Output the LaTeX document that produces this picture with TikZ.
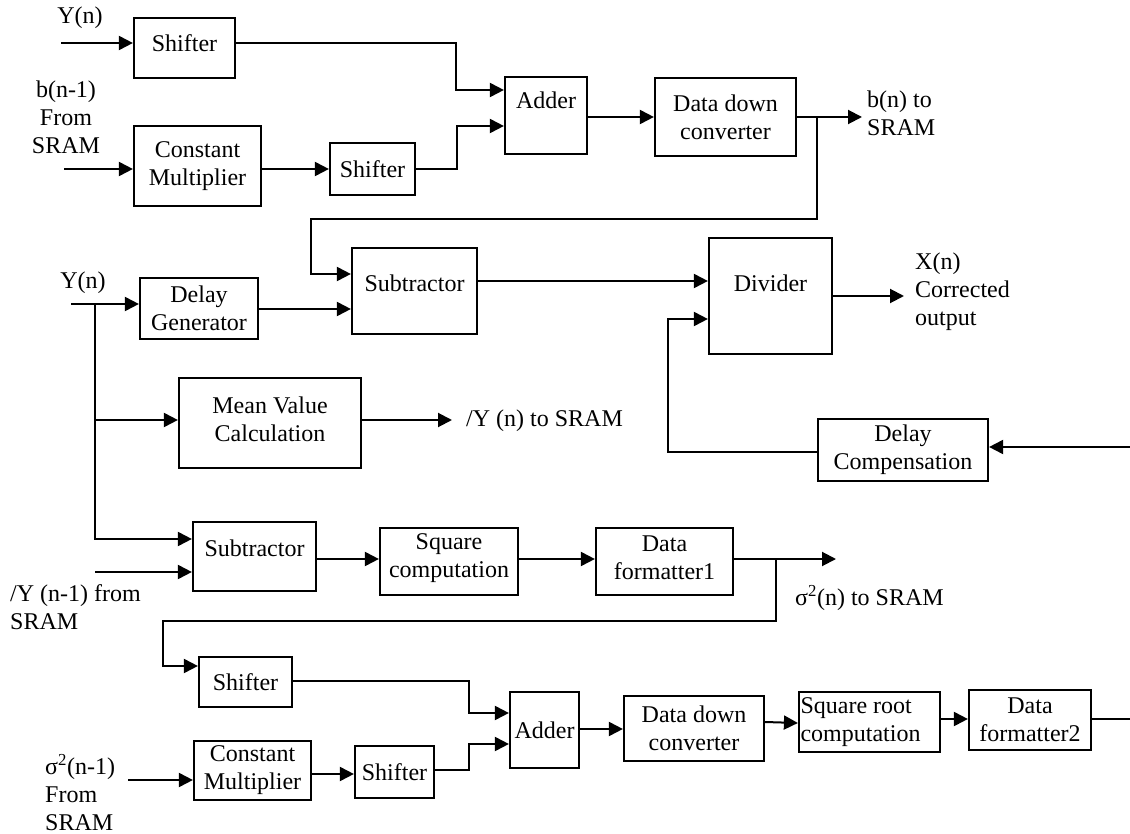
\documentclass[tikz,border=0pt]{standalone}
\usepackage{fontspec}
\setmainfont{Liberation Serif}
\usetikzlibrary{arrows.meta}

\begin{document}
\begin{tikzpicture}[x=1pt,y=-1pt,
  font=\fontsize{24}{28}\selectfont,
  blk/.style={draw,line width=2.2pt,inner sep=0pt,align=center},
  lbl/.style={inner sep=0pt,align=center},
  wire/.style={line width=2pt},
  arr/.style={line width=2pt,-{Triangle[length=14pt,width=14pt]}}]
\useasboundingbox (0,0) rectangle (1130,834);

% ---------- upper stage: b(n) update ----------
\node[blk,minimum width=101pt,minimum height=60pt,
      label={[lbl,yshift=5pt]center:Shifter}] (sh1) at (184.5,48) {};
\node[blk,minimum width=127pt,minimum height=80pt] (cm1) at (197.5,166) {Constant\\Multiplier};
\node[blk,minimum width=85pt,minimum height=52pt] (sh2) at (372.5,169) {Shifter};
\node[blk,minimum width=82pt,minimum height=77pt,
      label={[lbl,yshift=15pt]center:Adder}] (add1) at (546,115.5) {};
\node[blk,minimum width=141pt,minimum height=78pt] (ddc1) at (725.5,117) {Data down\\converter};

\node[lbl] (yn1) at (80,18) {Y(n)};
\node[lbl] (bin) at (66,117) {b(n-1)\\From\\SRAM};
\node[lbl,anchor=west,align=left] (bout) at (867,113) {b(n) to\\SRAM};

% ---------- correction stage ----------
\node[blk,minimum width=125pt,minimum height=86pt,
      label={[lbl,yshift=8pt]center:Subtractor}] (sub1) at (414.5,291) {};
\node[blk,minimum width=118pt,minimum height=61pt] (dg) at (199,308.5) {Delay\\Generator};
\node[blk,minimum width=182pt,minimum height=90pt,
      label={[lbl,yshift=4pt]center:{Mean Value\\Calculation}}] (mvc) at (270,423) {};
\node[blk,minimum width=123pt,minimum height=116pt,
      label={[lbl,yshift=13pt]center:Divider}] (div) at (770.5,296) {};
\node[blk,minimum width=170pt,minimum height=62pt] (dc) at (903,450) {Delay\\Compensation};

\node[lbl] (yn2) at (83,283) {Y(n)};
\node[lbl,anchor=west,align=left] (xout) at (915,292) {X(n)\\Corrected\\output};
\node[lbl,anchor=west] (ymean) at (466,421) {/Y (n) to SRAM};

% ---------- variance stage ----------
\node[blk,minimum width=123pt,minimum height=69pt,
      label={[lbl,yshift=8pt]center:Subtractor}] (sub2) at (254.5,556.5) {};
\node[blk,minimum width=138pt,minimum height=67pt,
      label={[lbl,yshift=3pt]center:{Square\\computation}}] (sqc) at (449,561.5) {};
\node[blk,minimum width=137pt,minimum height=67pt,
      label={[lbl,yshift=4pt]center:{Data\\formatter1}}] (df1) at (664.5,561.5) {};

\node[lbl,anchor=west,align=left] (yprev) at (10,607.5) {/Y (n-1) from\\SRAM};
\node[lbl,anchor=west] (sout) at (795,598) {σ\textsuperscript{2}(n) to SRAM};

% ---------- standard deviation stage ----------
\node[blk,minimum width=93pt,minimum height=50pt] (sh3) at (245.5,682) {Shifter};
\node[blk,minimum width=117pt,minimum height=59pt] (cm2) at (252.5,770.5) {Constant\\Multiplier};
\node[blk,minimum width=79pt,minimum height=52pt] (sh4) at (394.5,772) {Shifter};
\node[blk,minimum width=69pt,minimum height=76pt] (add2) at (544.5,730) {Adder};
\node[blk,minimum width=140pt,minimum height=65pt] (ddc2) at (694,728.5) {Data down\\converter};
\node[blk,minimum width=141pt,minimum height=60pt,
      label={[lbl,align=left,xshift=-9pt]center:{Square root\\computation}}] (sqr) at (869.5,722) {};
\node[blk,minimum width=122pt,minimum height=60pt] (df2) at (1030,720) {Data\\formatter2};

\node[lbl,anchor=west,align=left] (sin) at (45,793) {σ\textsuperscript{2}(n-1)\\From\\SRAM};

% ---------- wiring points ----------
\coordinate (in1) at (61,43);
\coordinate (in2) at (64,169);
\coordinate (j1) at (456,90);
\coordinate (j2) at (457,126);
\coordinate (out1) at (862,117);
\coordinate (fb1) at (817,219);
\coordinate (fb1b) at (311,274);

\coordinate (in3) at (71,304);
\coordinate (tap) at (95,304);
\coordinate (tapm) at (95,420);
\coordinate (tapb) at (95,539);
\coordinate (mout) at (452,420);
\coordinate (xo) at (904,296);
\coordinate (rin) at (1130,447);
\coordinate (dcl) at (668,452);
\coordinate (dcu) at (668,319);

\coordinate (in4) at (95,572);
\coordinate (dfo) at (836,559);
\coordinate (fb2) at (776,621);
\coordinate (fb2b) at (163,666);

\coordinate (j3) at (469,713);
\coordinate (j4) at (469,744);
\coordinate (in5) at (128,780);
\coordinate (fout) at (1130,719);

% ---------- connectors: b(n) update ----------
\draw[arr] (in1) -- (in1 -| sh1.west);
\draw[arr] (sh1.east |- in1) -- (j1 |- in1) -- (j1) -- (j1 -| add1.west);
\draw[arr] (in2) -- (in2 -| cm1.west);
\draw[arr] (cm1.east |- in2) -- (sh2.west |- in2);
\draw[arr] (sh2.east |- in2) -- (j2 |- in2) -- (j2) -- (j2 -| add1.west);
\draw[arr] (add1.east |- out1) -- (ddc1.west |- out1);
\draw[arr] (ddc1.east |- out1) -- (out1);
\draw[arr] (fb1 |- out1) -- (fb1) -- (fb1b |- fb1) -- (fb1b) -- (fb1b -| sub1.west);

% ---------- connectors: correction ----------
\draw[arr] (in3) -- (in3 -| dg.west);
\draw[arr] (dg.east |- 0,309) -- (sub1.west |- 0,309);
\draw[arr] (tap) -- (tapb) -- (tapb -| sub2.west);
\draw[arr] (tapm) -- (tapm -| mvc.west);
\draw[arr] (mvc.east |- mout) -- (mout);
\draw[arr] (sub1.east |- 0,281) -- (div.west |- 0,281);
\draw[arr] (div.east |- xo) -- (xo);
\draw[arr] (rin) -- (rin -| dc.east);
\draw[arr] (dc.west |- dcl) -- (dcl) -- (dcu) -- (dcu -| div.west);

% ---------- connectors: variance ----------
\draw[arr] (in4) -- (in4 -| sub2.west);
\draw[arr] (sub2.east |- dfo) -- (sqc.west |- dfo);
\draw[arr] (sqc.east |- dfo) -- (df1.west |- dfo);
\draw[arr] (df1.east |- dfo) -- (dfo);
\draw[arr] (fb2 |- dfo) -- (fb2) -- (fb2b |- fb2) -- (fb2b) -- (fb2b -| sh3.west);

% ---------- connectors: standard deviation ----------
\draw[arr] (sh3.east |- 0,681) -- (j3 |- 0,681) -- (j3) -- (j3 -| add2.west);
\draw[arr] (in5) -- (in5 -| cm2.west);
\draw[arr] (cm2.east |- 0,774) -- (sh4.west |- 0,774);
\draw[arr] (sh4.east |- 0,770) -- (j4 |- 0,770) -- (j4) -- (j4 -| add2.west);
\draw[arr] (add2.east |- 0,729) -- (ddc2.west |- 0,729);
\draw[arr] (ddc2.east |- 0,722) -- (sqr.west |- 0,723);
\draw[arr] (sqr.east |- fout) -- (df2.west |- fout);
\draw[wire] (df2.east |- fout) -- (fout);
\end{tikzpicture}
\end{document}
